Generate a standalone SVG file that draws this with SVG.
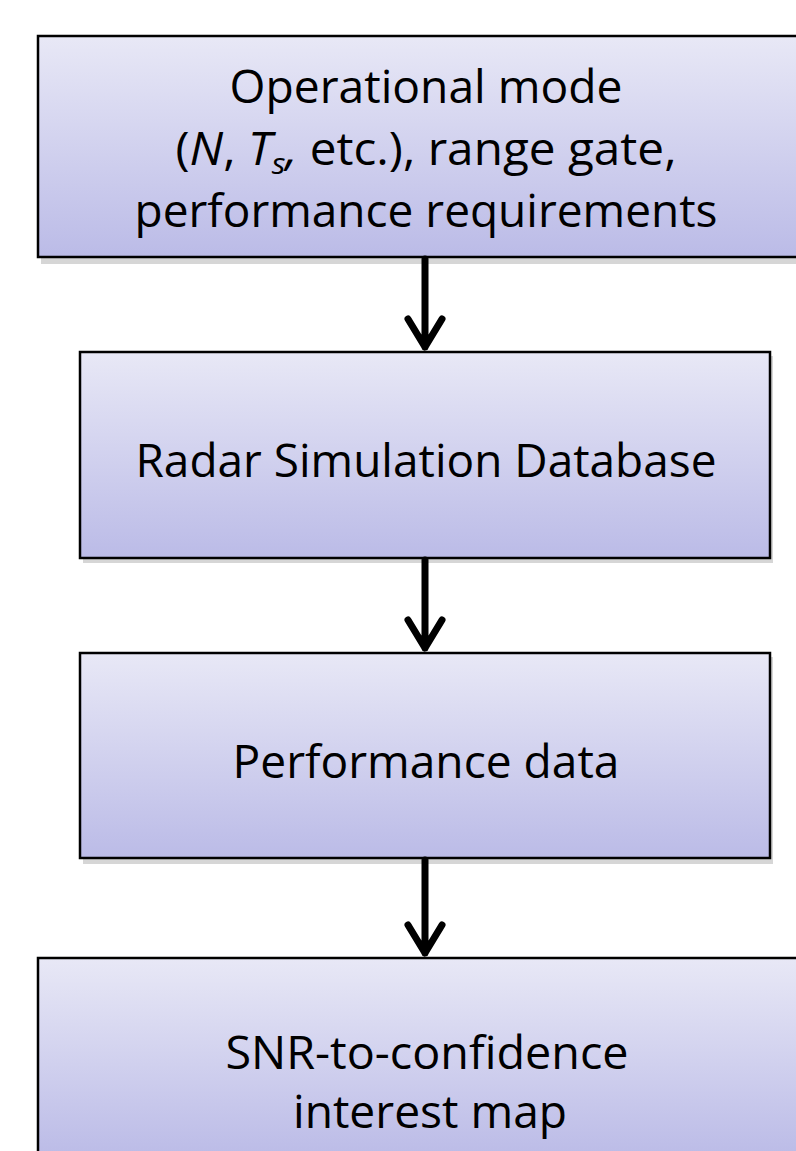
<svg xmlns="http://www.w3.org/2000/svg" width="796" height="1151" viewBox="0 0 796 1151">
  <defs>
    <linearGradient id="boxFill" x1="0" y1="0" x2="0" y2="1">
      <stop offset="0" stop-color="#e8e8f6"/>
      <stop offset="1" stop-color="#bbbbe7"/>
    </linearGradient>
    <style>
      .box { fill: url(#boxFill); stroke: #000; stroke-width: 2.5; }
      .shadow { fill: #d6d6d6; }
      .label { font-family: "Open Sans", "Liberation Sans", sans-serif; font-size: 45px; fill: #000; text-anchor: middle; }
      .arrow { fill: none; stroke: #000; stroke-width: 7; stroke-linecap: round; stroke-linejoin: round; }
    </style>
  </defs>
  <rect width="796" height="1151" fill="#fff"/>

  <g id="node-mode">
    <rect class="shadow" x="41" y="40" width="760" height="224"/>
    <rect class="box" x="38" y="36" width="762" height="221"/>
    <text class="label" x="426" y="103" textLength="393" lengthAdjust="spacingAndGlyphs">Operational mode</text>
    <text class="label" x="426" y="165" textLength="501" lengthAdjust="spacingAndGlyphs">(<tspan font-style="italic">N</tspan>, <tspan font-style="italic">T</tspan><tspan font-style="italic" font-size="30" dy="9">s</tspan><tspan font-style="italic" dy="-9">,</tspan> etc.), range gate,</text>
    <text class="label" x="426" y="227" textLength="583" lengthAdjust="spacingAndGlyphs">performance requirements</text>
  </g>

  <g id="node-database">
    <rect class="shadow" x="83" y="356" width="690" height="207"/>
    <rect class="box" x="80" y="352" width="690" height="206"/>
    <text class="label" x="426" y="477" textLength="581" lengthAdjust="spacingAndGlyphs">Radar Simulation Database</text>
  </g>

  <g id="node-performance">
    <rect class="shadow" x="83" y="657" width="690" height="207"/>
    <rect class="box" x="80" y="653" width="690" height="205"/>
    <text class="label" x="426" y="778" textLength="387" lengthAdjust="spacingAndGlyphs">Performance data</text>
  </g>

  <g id="node-map">
    <rect class="box" x="38" y="958" width="762" height="200"/>
    <text class="label" x="427" y="1069" textLength="403" lengthAdjust="spacingAndGlyphs">SNR-to-confidence</text>
    <text class="label" x="430" y="1128" textLength="274" lengthAdjust="spacingAndGlyphs">interest map</text>
  </g>

  <g id="connectors">
    <path class="arrow" d="M425 259 V347 M408 319 L425 347 L442 319"/>
    <path class="arrow" d="M425 560 V648 M408 620 L425 648 L442 620"/>
    <path class="arrow" d="M425 860 V953 M408 925 L425 953 L442 925"/>
  </g>
</svg>
